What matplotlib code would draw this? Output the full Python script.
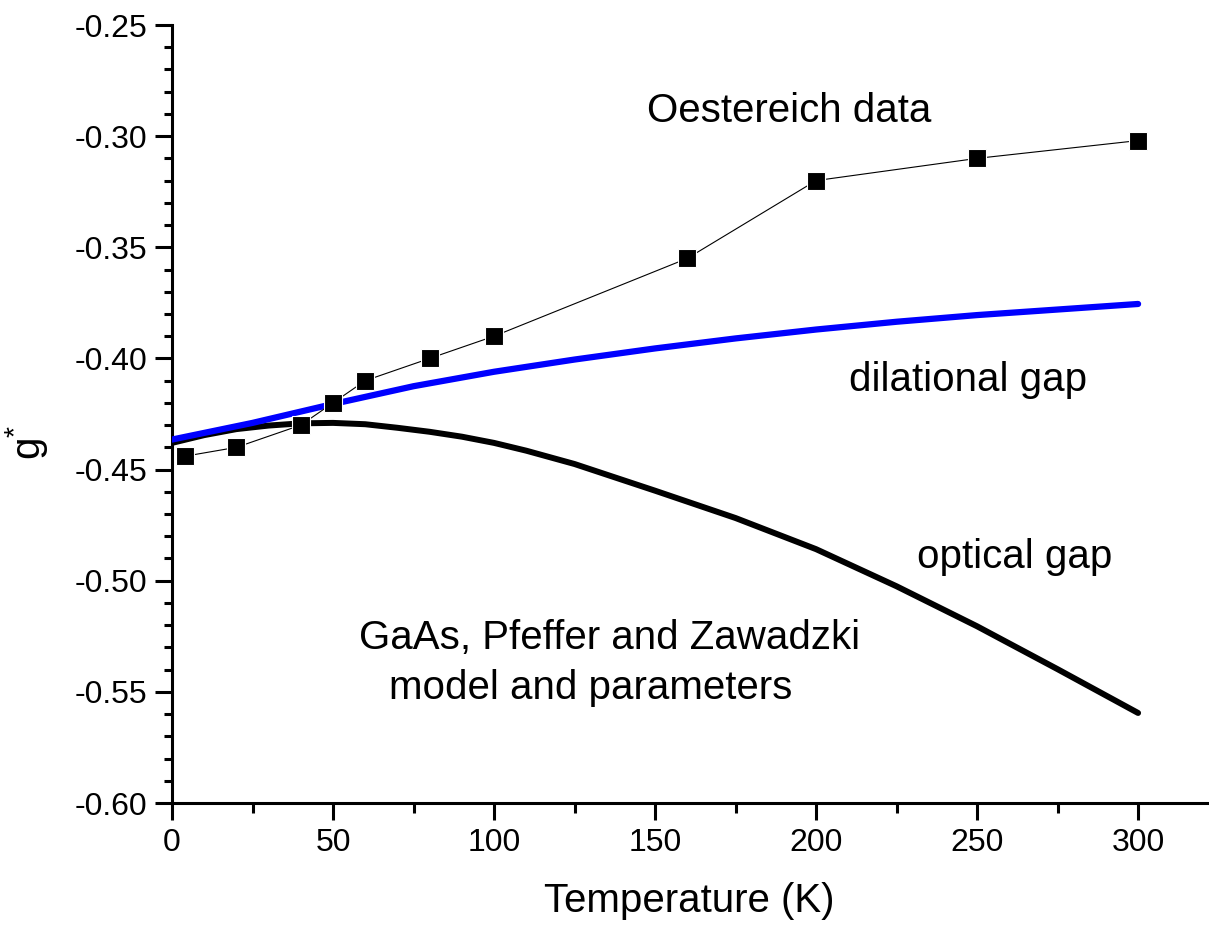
import matplotlib
matplotlib.use("Agg")
import matplotlib.pyplot as plt
from matplotlib.ticker import MultipleLocator, FormatStrFormatter

plt.rcParams['font.family'] = ['Liberation Sans', 'DejaVu Sans']
plt.rcParams['mathtext.default'] = 'regular'
plt.rcParams['axes.unicode_minus'] = False

# Oestereich experimental data
T_data = [4, 20, 40, 50, 60, 80, 100, 160, 200, 250, 300]
g_data = [-0.444, -0.440, -0.430, -0.420, -0.410, -0.400, -0.390, -0.355, -0.320, -0.310, -0.302]

# dilational gap model curve
T_dil = [0, 25, 50, 75, 100, 125, 150, 175, 200, 225, 250, 275, 300]
g_dil = [-0.4365, -0.4290, -0.4205, -0.4125, -0.4060, -0.4005, -0.3955, -0.3910,
         -0.3870, -0.3835, -0.3805, -0.3780, -0.3755]

# optical gap model curve
T_opt = [0, 10, 20, 30, 40, 50, 60, 70, 80, 90, 100, 110, 125, 150, 175, 200, 225, 250, 275, 300]
g_opt = [-0.4380, -0.4345, -0.4318, -0.4302, -0.4292, -0.4290, -0.4296, -0.4312, -0.4330,
         -0.4352, -0.4380, -0.4415, -0.4475, -0.4595, -0.4718, -0.4858, -0.5025, -0.5205,
         -0.5398, -0.5595]

W, H = 1209, 930
fig = plt.figure(figsize=(W / 100, H / 100), dpi=100)
ax = fig.add_axes([172 / W, 1 - 803 / H, (1207 - 172) / W, (803 - 25) / H])

ax.plot(T_opt, g_opt, color='black', lw=4.3, solid_capstyle='round',
        solid_joinstyle='round', zorder=2)
ax.plot(T_dil, g_dil, color='#0000ff', lw=4.5, solid_capstyle='round',
        solid_joinstyle='round', zorder=3)
ax.plot(T_data, g_data, color='black', lw=0.8, marker='s', ms=12.5,
        markerfacecolor='black', markeredgecolor='white', markeredgewidth=0.8, zorder=4)

ax.set_xlim(0, 321.4)
ax.set_ylim(-0.60, -0.25)

for s in ['top', 'right']:
    ax.spines[s].set_visible(False)
for s in ['left', 'bottom']:
    ax.spines[s].set_linewidth(2.2)

ax.xaxis.set_major_locator(MultipleLocator(50))
ax.xaxis.set_minor_locator(MultipleLocator(25))
ax.yaxis.set_major_locator(MultipleLocator(0.05))
ax.yaxis.set_minor_locator(MultipleLocator(0.01))
ax.yaxis.set_major_formatter(FormatStrFormatter('%.2f'))

ax.tick_params(axis='both', which='major', direction='out', length=12, width=2.2,
               labelsize=23, pad=6)
ax.tick_params(axis='x', which='minor', direction='out', length=7, width=2.2)
ax.tick_params(axis='y', which='minor', direction='out', length=6, width=2.2)

ax.set_xlabel('Temperature (K)', fontsize=29, labelpad=17)
ax.set_ylabel(r'g$^{*}$', fontsize=29)
ax.yaxis.set_label_coords(-0.118, 0.464)

txt = dict(fontsize=29, ha='center', va='center')
ax.text(191.6, -0.2887, 'Oestereich data', **txt)
ax.text(247.2, -0.4097, 'dilational gap', **txt)
ax.text(261.8, -0.4893, 'optical gap', **txt)
ax.text(136.0, -0.5258, 'GaAs, Pfeffer and Zawadzki', **txt)
ax.text(130.1, -0.5483, 'model and parameters', **txt)

fig.savefig('out.png', dpi=100)
